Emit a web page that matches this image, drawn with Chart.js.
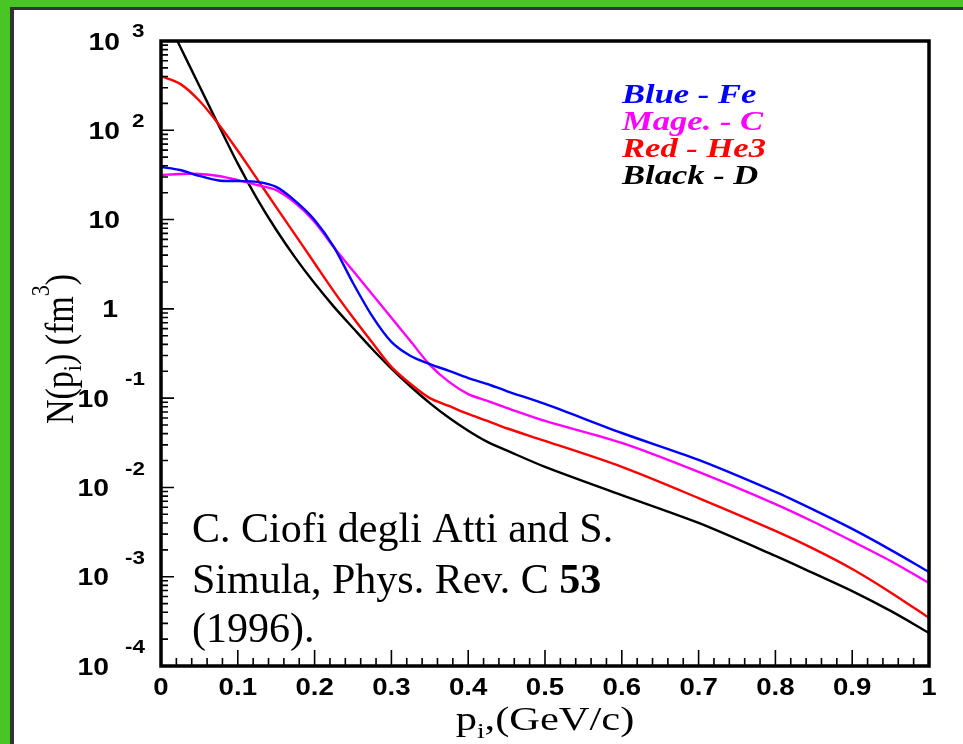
<!DOCTYPE html>
<html>
<head>
<meta charset="utf-8">
<script src="https://cdn.jsdelivr.net/npm/chart.js@4"></script>
<style>
  html, body { margin: 0; padding: 0; }
  body { width: 963px; height: 744px; background: #4ac526; position: relative; overflow: hidden; }
  #paper { position: absolute; left: 10px; top: 7px; right: 0; bottom: 0; background: #fff;
           border-left: 4px solid #333; border-top: 3px solid #333; }
  #wrap { position: absolute; left: 0; top: 0; width: 963px; height: 744px; }
</style>
</head>
<body>
<div id="paper"></div>
<div id="wrap"><canvas id="nucChart" width="963" height="744"></canvas></div>
<script>
// momentum p_i in GeV/c
var momentum = [0, 0.025, 0.05, 0.075, 0.1, 0.125, 0.15, 0.175, 0.2, 0.225, 0.25, 0.275,
                0.3, 0.325, 0.35, 0.375, 0.4, 0.425, 0.45, 0.5, 0.6, 0.7, 0.8, 0.85, 0.9, 0.95, 1.0];

// N(p_i) in fm^3
var nFe  = [38.8, 35.9, 30.8, 27.4, 27.0, 26.4, 23.2, 16.1, 9.9, 4.95, 1.95, 0.83,
            0.427, 0.297, 0.241, 0.202, 0.168, 0.144, 0.12, 0.086, 0.0407, 0.0203, 0.0089, 0.0056, 0.00343, 0.002, 0.00113];
var nC   = [31.6, 32.4, 32.4, 30.8, 27.7, 24.4, 21.4, 15.3, 9.4, 4.9, 2.67, 1.46,
            0.796, 0.434, 0.236, 0.152, 0.111, 0.093, 0.078, 0.0556, 0.0315, 0.0149, 0.0065, 0.0041, 0.0025, 0.0015, 0.00085];
var nHe3 = [405, 331, 214, 117, 59, 28.6, 13.8, 6.7, 3.24, 1.57, 0.80, 0.42,
            0.224, 0.144, 0.1, 0.0818, 0.0665, 0.0556, 0.046, 0.0332, 0.017, 0.0076, 0.00326, 0.00205, 0.00122, 0.000667, 0.000346];
var nD   = [2380, 863, 313, 114, 42.3, 17.2, 7.69, 3.72, 1.93, 1.06, 0.611, 0.355,
            0.214, 0.135, 0.0881, 0.0603, 0.0432, 0.0324, 0.026, 0.017, 0.0082, 0.004, 0.00171, 0.00109, 0.00069, 0.000414, 0.000235];

var seriesNames = ['Blue - Fe', 'Mage. - C', 'Red - He3', 'Black - D'];
var seriesColors = ['#0000ff', '#ff00ff', '#ff0000', '#000000'];

var xTickValues = [0, 0.1, 0.2, 0.3, 0.4, 0.5, 0.6, 0.7, 0.8, 0.9, 1];
var xTickLabels = ['0', '0.1', '0.2', '0.3', '0.4', '0.5', '0.6', '0.7', '0.8', '0.9', '1'];
var yTickExps = [3, 2, 1, 0, -1, -2, -3, -4];

var citeLines = ['C. Ciofi degli Atti and S.', 'Simula, Phys. Rev. C ', '(1996).'];
var citeBold = '53';

function pts(ys) {
    var out = [];
    for (var i = 0; i < momentum.length; i++) out.push({x: momentum[i], y: ys[i]});
    return out;
}

function stretchText(ctx, txt, x, y, sx, align) {
    ctx.save();
    ctx.translate(x, y);
    ctx.scale(sx, 1);
    ctx.textAlign = align;
    ctx.fillText(txt, 0, 0);
    ctx.restore();
}

var decor = {
    id: 'decor',
    afterDraw: function (chart) {
        var ctx = chart.ctx;
        var a = chart.chartArea;
        var xs = chart.scales.x, ys = chart.scales.y;
        ctx.save();
        ctx.strokeStyle = '#000';
        ctx.fillStyle = '#000';

        // ticks pointing inward
        ctx.lineWidth = 1.6;
        ctx.beginPath();
        for (var k = -4; k < 3; k++) {
            for (var m = 1; m <= 9; m++) {
                var py = ys.getPixelForValue(m * Math.pow(10, k));
                var len = (m == 1) ? 13 : 7;
                ctx.moveTo(a.left, py);
                ctx.lineTo(a.left + len, py);
            }
        }
        for (var t = 0; t <= 50; t++) {
            var px = xs.getPixelForValue(t * 0.02);
            var l2 = (t % 5 == 0) ? 16 : 8;
            ctx.moveTo(px, a.bottom);
            ctx.lineTo(px, a.bottom - l2);
        }
        ctx.stroke();

        // frame
        ctx.lineWidth = 3.5;
        ctx.strokeRect(a.left, a.top, a.right - a.left, a.bottom - a.top);

        // x tick labels
        ctx.font = 'bold 24px "Liberation Sans", Arial, sans-serif';
        ctx.textBaseline = 'middle';
        for (var i = 0; i < xTickValues.length; i++) {
            stretchText(ctx, xTickLabels[i], xs.getPixelForValue(xTickValues[i]), 688, 1.15, 'center');
        }

        // y tick labels 10^k
        var big = 'bold 24px "Liberation Sans", Arial, sans-serif';
        var small = 'bold 19px "Liberation Sans", Arial, sans-serif';
        for (var j = 0; j < yTickExps.length; j++) {
            var e = yTickExps[j];
            var yy = ys.getPixelForValue(Math.pow(10, e));
            ctx.font = big;
            if (e == 0) {
                stretchText(ctx, '1', 118, yy + 2, 1.18, 'right');
            } else if (e == 1) {
                stretchText(ctx, '10', 120, yy + 2, 1.18, 'right');
            } else if (e > 1) {
                stretchText(ctx, '10', 120, yy + 2, 1.18, 'right');
                ctx.font = small;
                stretchText(ctx, String(e), 132, yy - 9, 1.18, 'left');
            } else {
                stretchText(ctx, '10', 109, yy + 2, 1.18, 'right');
                ctx.font = small;
                stretchText(ctx, String(e), 145, yy - 18, 1.18, 'right');
            }
        }

        // x axis title  p_i,(GeV/c)
        ctx.textBaseline = 'alphabetic';
        ctx.save();
        ctx.translate(545, 730);
        ctx.scale(1.25, 1);
        var f1 = '34px "Liberation Serif", "Times New Roman", serif';
        var f2 = '22px "Liberation Serif", "Times New Roman", serif';
        ctx.font = f1; var w1 = ctx.measureText('p').width; var w3 = ctx.measureText(',(GeV/c)').width;
        ctx.font = f2; var w2 = ctx.measureText('i').width;
        var x0 = -(w1 + w2 + w3) / 2;
        ctx.textAlign = 'left';
        ctx.font = f1; ctx.fillText('p', x0, 0);
        ctx.font = f2; ctx.fillText('i', x0 + w1, 8);
        ctx.font = f1; ctx.fillText(',(GeV/c)', x0 + w1 + w2, 0);
        ctx.restore();

        // y axis title  N(p_i) (fm^3)
        ctx.save();
        ctx.translate(73, 349);
        ctx.rotate(-Math.PI / 2);
        ctx.scale(1, 1.15);
        ctx.textAlign = 'left';
        var parts = [['N(p', f1, 0], ['i', f2, 7], [') (fm', f1, 0], ['3', f2, -21], [')', f1, 0]];
        var tot = 0;
        for (var q = 0; q < parts.length; q++) { ctx.font = parts[q][1]; tot += ctx.measureText(parts[q][0]).width; }
        var cx = -tot / 2;
        for (var q2 = 0; q2 < parts.length; q2++) {
            ctx.font = parts[q2][1];
            ctx.fillText(parts[q2][0], cx, parts[q2][2]);
            cx += ctx.measureText(parts[q2][0]).width;
        }
        ctx.restore();

        // legend text
        ctx.font = 'italic bold 27px "Liberation Serif", "Times New Roman", serif';
        for (var s = 0; s < seriesNames.length; s++) {
            ctx.fillStyle = seriesColors[s];
            stretchText(ctx, seriesNames[s], 622, 103 + s * 27, 1.28, 'left');
        }

        // citation
        ctx.fillStyle = '#000';
        ctx.textAlign = 'left';
        ctx.font = '42px "Liberation Serif", "Times New Roman", serif';
        ctx.fillText(citeLines[0], 192, 542);
        ctx.fillText(citeLines[1], 192, 593);
        var cw = ctx.measureText(citeLines[1]).width;
        ctx.font = 'bold 42px "Liberation Serif", "Times New Roman", serif';
        ctx.fillText(citeBold, 192 + cw, 593);
        ctx.font = '42px "Liberation Serif", "Times New Roman", serif';
        ctx.fillText(citeLines[2], 192, 642);
        ctx.restore();
    }
};

var sets = [nFe, nC, nHe3, nD];
var datasets = [];
for (var i = 0; i < sets.length; i++) {
    datasets.push({
        label: seriesNames[i],
        data: pts(sets[i]),
        showLine: true,
        borderColor: seriesColors[i],
        borderWidth: 2.4,
        pointRadius: 0,
        tension: 0.3,
        fill: false
    });
}

new Chart(document.getElementById('nucChart'), {
    type: 'scatter',
    data: { datasets: datasets },
    options: {
        responsive: false,
        animation: false,
        layout: { padding: { left: 161, right: 34, top: 41, bottom: 78 } },
        plugins: { legend: { display: false }, tooltip: { enabled: false } },
        scales: {
            x: { type: 'linear', min: 0, max: 1, display: false },
            y: { type: 'logarithmic', min: 1e-4, max: 1e3, display: false }
        }
    },
    plugins: [decor]
});
</script>
</body>
</html>
